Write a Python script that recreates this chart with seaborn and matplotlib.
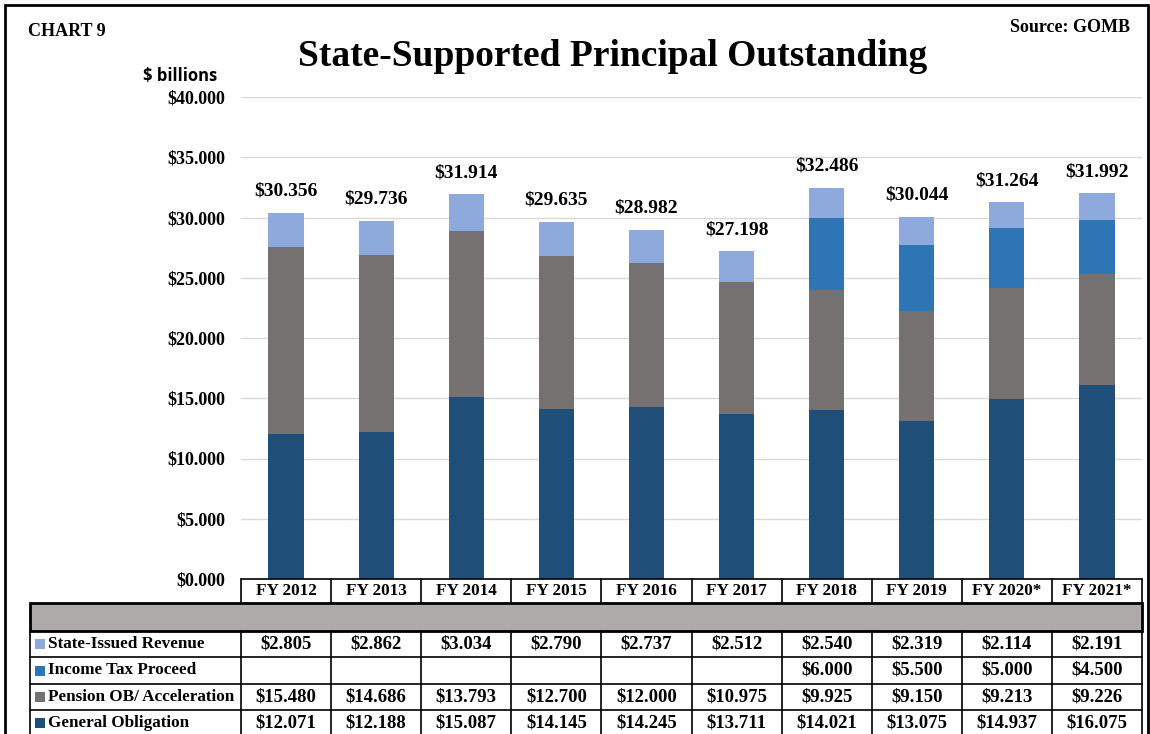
import matplotlib.pyplot as plt
import seaborn as sns
import pandas as pd
import numpy as np
from matplotlib.patches import Rectangle
from matplotlib.lines import Line2D

years = ['FY 2012', 'FY 2013', 'FY 2014', 'FY 2015', 'FY 2016',
         'FY 2017', 'FY 2018', 'FY 2019', 'FY 2020*', 'FY 2021*']
general_obligation = [12.071, 12.188, 15.087, 14.145, 14.245, 13.711, 14.021, 13.075, 14.937, 16.075]
pension_ob = [15.480, 14.686, 13.793, 12.700, 12.000, 10.975, 9.925, 9.150, 9.213, 9.226]
income_tax = [0, 0, 0, 0, 0, 0, 6.000, 5.500, 5.000, 4.500]
state_issued = [2.805, 2.862, 3.034, 2.790, 2.737, 2.512, 2.540, 2.319, 2.114, 2.191]
totals = [30.356, 29.736, 31.914, 29.635, 28.982, 27.198, 32.486, 30.044, 31.264, 31.992]

series_names = ['State-Issued Revenue', 'Income Tax Proceed',
                'Pension OB/ Acceleration', 'General Obligation']
series_vals = [state_issued, income_tax, pension_ob, general_obligation]
colors = ['#8EA9DB', '#2E75B6', '#767171', '#1F4E79']

sns.set_style('white')
plt.rcParams['font.family'] = ['Liberation Serif', 'DejaVu Serif']
plt.rcParams['text.color'] = 'black'
plt.rcParams['ytick.color'] = 'black'

W, H = 1150, 734
fig = plt.figure(figsize=(W / 100, H / 100), dpi=100)


def fx(px):
    return px / W


def fy(py):
    return 1 - py / H


ax_l, ax_r, ax_t, ax_b = 241, 1142, 97, 579
ax = fig.add_axes([fx(ax_l), fy(ax_b), fx(ax_r - ax_l), (ax_b - ax_t) / H])

# stacked bars: draw cumulative heights, tallest first
df = pd.DataFrame({'year': years})
cum = np.zeros(len(years))
cums = []
for vals in series_vals[::-1]:
    cum = cum + np.array(vals)
    cums.append(cum.copy())
for name, c, color in zip(series_names, cums[::-1], colors):
    df['h'] = c
    sns.barplot(data=df, x='year', y='h', color=color, width=0.39,
                saturation=1, linewidth=0, ax=ax, order=years)

for i, t in enumerate(totals):
    ax.text(i, t + 1.1, f'${t:.3f}', ha='center', va='bottom',
            fontsize=14, fontweight='bold')

ax.set_xlim(-0.5, len(years) - 0.5)
ax.set_ylim(0, 40)
ax.set_yticks(np.arange(0, 40.1, 5))
ax.set_yticklabels([f'${v:.3f}' for v in np.arange(0, 40.1, 5)],
                   fontsize=13, fontweight='bold')
ax.tick_params(axis='y', length=0, pad=11)
ax.set_xticks([])
ax.set_xlabel('')
ax.set_ylabel('')
ax.grid(True, axis='y', color='#D9D9D9', linewidth=1)
ax.set_axisbelow(True)
for s in ax.spines.values():
    s.set_visible(False)

# titles
fig.text(fx(613), fy(57), 'State-Supported Principal Outstanding', ha='center',
         va='center', fontsize=27, fontweight='bold')
fig.text(fx(28), fy(32), 'CHART 9', ha='left', va='center', fontsize=13, fontweight='bold')
fig.text(fx(1130), fy(27), 'Source: GOMB', ha='right', va='center', fontsize=13, fontweight='bold')
fig.text(fx(217), fy(76), '$ billions', ha='right', va='center', fontsize=12,
         fontweight='bold', family=['Open Sans', 'DejaVu Sans'])

# outer frame
fig.add_artist(Rectangle((fx(5), fy(760)), fx(1143), (755) / H, transform=fig.transFigure,
                         fill=False, edgecolor='black', linewidth=2))

# data table
col_w = (ax_r - ax_l) / len(years)
lab_l = 30
rows = [(579, 603), (603, 631), (631, 657), (657, 684), (684, 710), (710, 736)]


def hline(x0, x1, y, lw=1.2):
    fig.add_artist(Line2D([fx(x0), fx(x1)], [fy(y), fy(y)], transform=fig.transFigure,
                          color='black', linewidth=lw))


def vline(x, y0, y1, lw=1.2):
    fig.add_artist(Line2D([fx(x), fx(x)], [fy(y0), fy(y1)], transform=fig.transFigure,
                          color='black', linewidth=lw))


# header row
hline(ax_l, ax_r, 579)
for i, yr in enumerate(years):
    fig.text(fx(ax_l + (i + 0.5) * col_w), fy(591), yr, ha='center', va='center',
             fontsize=12.3, fontweight='bold')
for i in range(len(years) + 1):
    vline(ax_l + i * col_w, 579, 603)

# grey band
fig.add_artist(Rectangle((fx(lab_l), fy(631)), fx(ax_r - lab_l), 28 / H,
                         transform=fig.transFigure, facecolor='#AEAAAA',
                         edgecolor='black', linewidth=2))

# series rows
for r, (name, vals, color) in enumerate(zip(series_names, series_vals, colors)):
    y0, y1 = rows[r + 2]
    yc = (y0 + y1) / 2
    hline(lab_l, ax_r, y1)
    fig.add_artist(Rectangle((fx(35), fy(yc + 5)), fx(10), 10 / H,
                             transform=fig.transFigure, facecolor=color, edgecolor='none'))
    fig.text(fx(48), fy(yc), name, ha='left', va='center', fontsize=12.3, fontweight='bold')
    for i, v in enumerate(vals):
        if v:
            fig.text(fx(ax_l + (i + 0.5) * col_w), fy(yc), f'${v:.3f}', ha='center',
                     va='center', fontsize=13.5, fontweight='bold')
vline(lab_l, 631, 736)
for i in range(len(years) + 1):
    vline(ax_l + i * col_w, 631, 736)

fig.savefig('out.png', dpi=100)
